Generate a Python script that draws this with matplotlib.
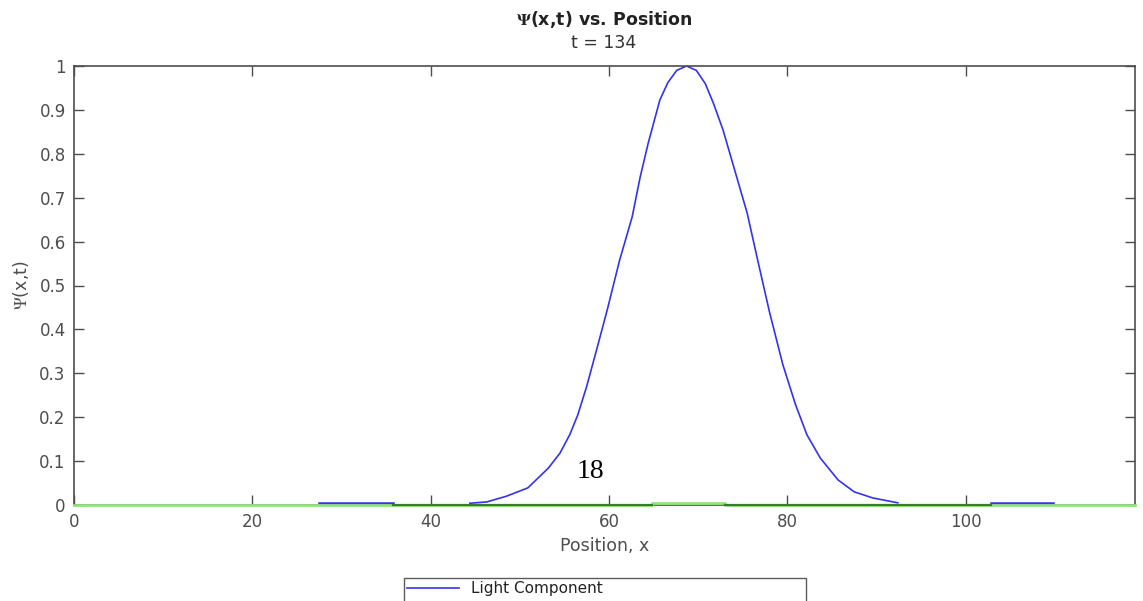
import matplotlib as mpl
mpl.use("Agg")
import matplotlib.pyplot as plt

# blue curve (light component)
light_x = [44.4, 46.3, 48.5, 50.9, 53.2, 54.5, 55.6, 56.5, 57.5, 58.7, 59.8, 61.2, 62.6,
           63.5, 64.4, 65.7, 66.6, 67.6, 68.7, 69.8, 70.8, 71.7, 72.8, 74.1, 75.5,
           76.6, 78.0, 79.5, 80.9, 82.2, 83.7, 85.7, 87.5, 89.6, 92.4]
light_y = [0.004, 0.007, 0.02, 0.039, 0.084, 0.118, 0.16, 0.205, 0.27, 0.36, 0.444, 0.558, 0.656,
           0.747, 0.824, 0.922, 0.962, 0.99, 1.0, 0.99, 0.96, 0.916, 0.854, 0.763, 0.665,
           0.565, 0.44, 0.32, 0.23, 0.16, 0.107, 0.057, 0.03, 0.016, 0.005]
# flat blue tails
tail1_x = [27.5, 35.8]
tail1_y = [0.004, 0.004]
tail2_x = [102.8, 109.8]
tail2_y = [0.004, 0.004]

# dark green pieces
dark1_x = [35.8, 64.8]
dark1_y = [0.0, 0.0]
dark2_x = [73.0, 102.8]
dark2_y = [0.0, 0.0]

# light green line
lg_x = [0, 64.8, 64.8, 73.0, 73.0, 119]
lg_y = [0.0, 0.0, 0.004, 0.004, 0.0, 0.0]

note_x, note_y, note_txt = 57.9, 0.077, "18"

grey = "#4d4d4d"
blue = "#3333ee"

plt.rcParams["mathtext.fontset"] = "stix"

fig = plt.figure(figsize=(11.43, 6.01), dpi=100)
ax = fig.add_axes([74 / 1143, 1 - 505 / 601, (1135 - 74) / 1143, (505 - 66) / 601])

h1, = ax.plot(light_x, light_y, color=blue, linewidth=1.2)
ax.plot(tail1_x, tail1_y, color=blue, linewidth=1.8, zorder=3, clip_on=False)
ax.plot(tail2_x, tail2_y, color=blue, linewidth=1.8, zorder=3, clip_on=False)
h2, = ax.plot(lg_x, lg_y, color="#8ee67a", linewidth=2.0, zorder=3, clip_on=False)
h3, = ax.plot(dark1_x, dark1_y, color="#2f7f2f", linewidth=1.6, zorder=3.1, clip_on=False)
ax.plot(dark2_x, dark2_y, color="#2f7f2f", linewidth=1.6, zorder=3.1, clip_on=False)

ax.text(note_x, note_y, note_txt, fontsize=20, family="Liberation Serif",
        ha="center", va="center", color="black")

ax.set_xlim(0, 119)
ax.set_ylim(0, 1)
ax.set_xticks([0, 20, 40, 60, 80, 100])
ax.set_yticks([0, 0.1, 0.2, 0.3, 0.4, 0.5, 0.6, 0.7, 0.8, 0.9, 1])
ax.set_yticklabels(["0", "0.1", "0.2", "0.3", "0.4", "0.5", "0.6", "0.7", "0.8", "0.9", "1"])
ax.tick_params(direction="in", length=7, width=1, color=grey, labelcolor=grey,
               labelsize=12, top=True, right=True, pad=6)
for s in ax.spines.values():
    s.set_color(grey)
    s.set_linewidth(1.2)

ax.set_xlabel("Position, x", fontsize=12.5, color=grey, labelpad=4)
ax.set_ylabel(r"$\Psi$(x,t)", fontsize=12.5, color=grey, labelpad=6)

fig.text(604 / 1143, 1 - 20 / 601, r"$\mathbf{\Psi}$(x,t) vs. Position", fontsize=12.5,
         fontweight="bold", color="#222222", ha="center", va="center")
fig.text(604 / 1143, 1 - 43 / 601, "t = 134", fontsize=12.5, color="#333333",
         ha="center", va="center")

top = 1 - 578 / 601
leg = fig.legend([h1, h3, h2], ["Light Component", "", ""], loc="upper left",
                 bbox_to_anchor=(404 / 1143, -0.5, 402 / 1143, top + 0.5), mode="expand",
                 borderaxespad=0, fancybox=False, fontsize=11, handlelength=3.4,
                 borderpad=0.2, labelspacing=0.4)
leg.get_frame().set_edgecolor("#333333")
leg.get_frame().set_linewidth(1.0)
for t in leg.get_texts():
    t.set_color("#222222")

fig.savefig("out.png", dpi=100)
